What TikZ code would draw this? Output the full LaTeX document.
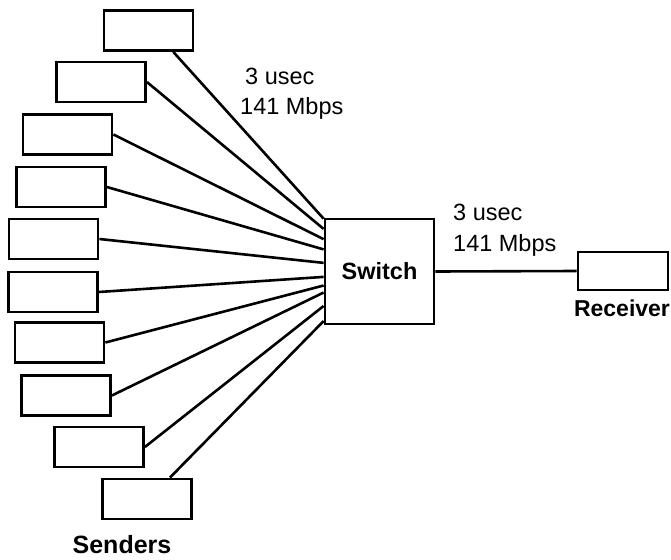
\documentclass[tikz,border=0pt]{standalone}
\usepackage{fontspec}
\setmainfont{Liberation Sans}
\usetikzlibrary{calc}
\begin{document}
\begin{tikzpicture}[x=1pt,y=-1pt,
  box/.style={draw,line width=2.8pt,minimum width=89pt,minimum height=40pt,inner sep=0pt},
  link/.style={line width=2.6pt},
  lbl/.style={font=\fontsize{23.5}{27}\selectfont,inner sep=0pt,anchor=west},
  blbl/.style={font=\fontsize{23}{27}\selectfont\bfseries,inner sep=0pt}]
\useasboundingbox (0,0) rectangle (671,559);
\node[box] (s1) at (148.5,30.5) {};
\node[box] (s2) at (101,82) {};
\node[box] (s3) at (67.5,134.5) {};
\node[box] (s4) at (61,187) {};
\node[box] (s5) at (53.5,239) {};
\node[box] (s6) at (53,292) {};
\node[box] (s7) at (59.5,342.5) {};
\node[box] (s8) at (66,395.5) {};
\node[box] (s9) at (99,447) {};
\node[box] (s10) at (147,499) {};
\node[box,minimum width=109pt,minimum height=105pt,font=\fontsize{23.5}{27}\selectfont\bfseries] (sw) at (379.5,271.5) {Switch};
\node[box,minimum width=90pt,minimum height=38pt] (rc) at (623,271) {};
\node[blbl] (rl) at (622,308) {Receiver};
\node[blbl,font=\fontsize{25}{29}\selectfont\bfseries] (sl) at (122,545) {Senders};
\node[lbl] (l1) at (245,76) {3 usec};
\node[lbl] (l2) at (240,108) {141 Mbps};
\node[lbl] (l3) at (453,212) {3 usec};
\node[lbl] (l4) at (453,245) {141 Mbps};
\draw[link] ($(s1.south west)!0.77!(s1.south east)$) -- ($(sw.north west)!0.01!(sw.south west)$);
\draw[link] (s2.east) -- ($(sw.north west)!0.105!(sw.south west)$);
\draw[link] (s3.east) -- ($(sw.north west)!0.2!(sw.south west)$);
\draw[link] (s4.east) -- ($(sw.north west)!0.295!(sw.south west)$);
\draw[link] (s5.east) -- ($(sw.north west)!0.42!(sw.south west)$);
\draw[link] (s6.east) -- ($(sw.north west)!0.55!(sw.south west)$);
\draw[link] (s7.east) -- ($(sw.north west)!0.63!(sw.south west)$);
\draw[link] (s8.east) -- ($(sw.north west)!0.695!(sw.south west)$);
\draw[link] (s9.east) -- ($(sw.north west)!0.82!(sw.south west)$);
\draw[link] ($(s10.north west)!0.75!(s10.north east)$) -- ($(sw.north west)!0.96!(sw.south west)$);
\draw[link] (sw.east) -- (rc.west);
\end{tikzpicture}
\end{document}
